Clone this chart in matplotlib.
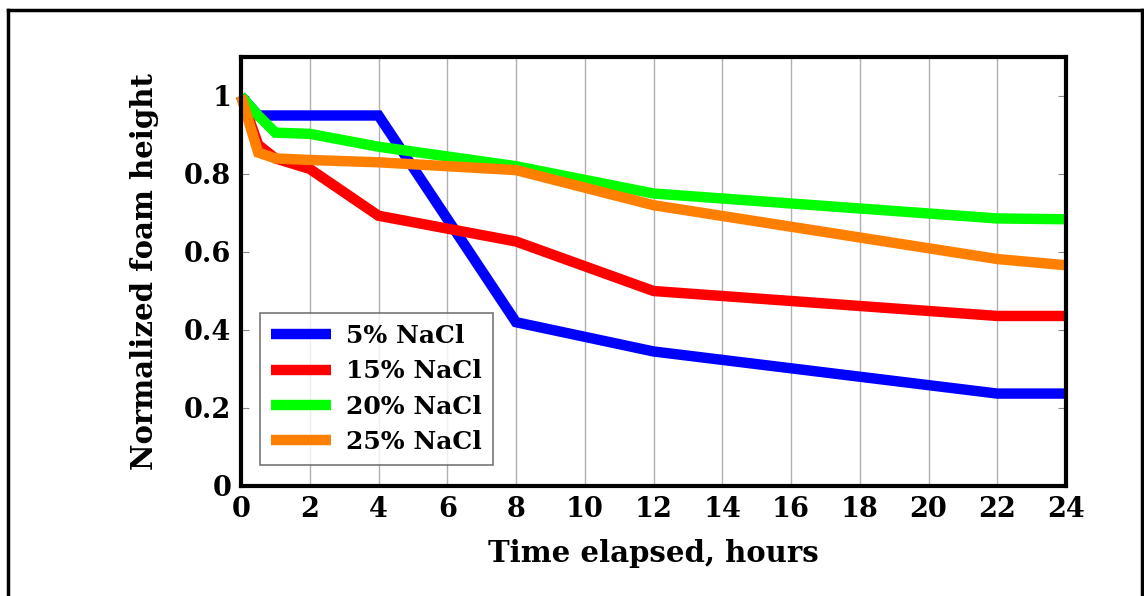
import matplotlib
matplotlib.use("Agg")
import matplotlib.pyplot as plt
from matplotlib.lines import Line2D

hours = [0, 0.5, 1, 2, 4, 8, 12, 22, 24]
nacl_5 = [1.0, 0.95, 0.95, 0.95, 0.95, 0.42, 0.345, 0.237, 0.237]
nacl_15 = [1.0, 0.875, 0.84, 0.813, 0.693, 0.627, 0.50, 0.436, 0.436]
nacl_20 = [1.0, 0.95, 0.906, 0.903, 0.87, 0.82, 0.75, 0.686, 0.684]
nacl_25 = [1.0, 0.855, 0.84, 0.836, 0.83, 0.81, 0.72, 0.582, 0.566]
labels = ["5% NaCl", "15% NaCl", "20% NaCl", "25% NaCl"]
colors = ["#0000ff", "#ff0000", "#00ff00", "#ff8000"]
xticks = list(range(0, 25, 2))
yticks = [0, 0.2, 0.4, 0.6, 0.8, 1]
ytick_labels = ["0", "0.2", "0.4", "0.6", "0.8", "1"]

plt.rcParams["font.family"] = "DejaVu Serif"
plt.rcParams["font.weight"] = "bold"

fig = plt.figure(figsize=(11.44, 5.96), dpi=100)
W, H = 1144, 596
ax = fig.add_axes([241 / W, 1 - 486 / H, (1066 - 241) / W, (486 - 57) / H])

for ys, c, lab in zip([nacl_5, nacl_15, nacl_20, nacl_25], colors, labels):
    ax.plot(hours, ys, color=c, lw=7.5, label=lab, solid_joinstyle="miter",
            solid_capstyle="butt", zorder=3, clip_on=False)

ax.set_xlim(0, 24)
ax.set_ylim(0, 1.1)
ax.set_xticks(xticks)
ax.set_xticklabels([str(t) for t in xticks], fontweight="bold")
ax.set_yticks(yticks)
ax.set_yticklabels(ytick_labels, fontweight="bold")
ax.grid(axis="x", color="#b0b0b0", lw=1.0)
ax.tick_params(axis="both", direction="in", labelsize=19.5, length=6,
               width=0.8, color="#888888", right=True, top=False, pad=7)
ax.tick_params(axis="x", length=0)
for s in ax.spines.values():
    s.set_linewidth(3)
    s.set_zorder(4)

ax.set_xlabel("Time elapsed, hours", fontsize=21, fontweight="bold", labelpad=12)
ax.set_ylabel("Normalized foam height", fontsize=21, fontweight="bold", labelpad=18)

handles = [Line2D([0], [0], color=c, lw=7.5, solid_capstyle="butt") for c in colors]
leg = ax.legend(handles, labels, loc="lower left", bbox_to_anchor=(19 / 825, 21 / 429),
                prop={"size": 18, "weight": "bold"}, frameon=True, fancybox=False,
                handlelength=2.4, handletextpad=0.6, borderpad=0.45, labelspacing=0.45,
                borderaxespad=0)
leg.get_frame().set_edgecolor("#555555")
leg.get_frame().set_linewidth(1.2)
leg.set_zorder(5)

# page border
for xs, ys in [([8 / W, 8 / W], [0, 1 - 10 / H]),
               ([8 / W, 1142 / W], [1 - 10 / H, 1 - 10 / H]),
               ([1142 / W, 1142 / W], [0, 1 - 10 / H])]:
    fig.add_artist(Line2D(xs, ys, color="black", lw=2.5, transform=fig.transFigure))

fig.savefig("out.png", dpi=100)
